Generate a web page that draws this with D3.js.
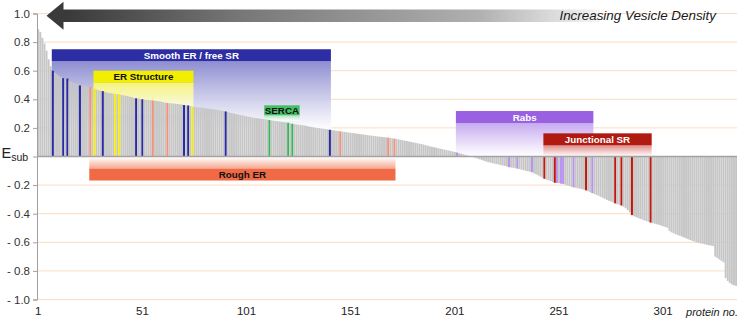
<!DOCTYPE html>
<html>
<head>
<meta charset="utf-8">
<script src="https://cdn.jsdelivr.net/npm/d3@7"></script>
<style>
  body { margin: 0; background: #fff; }
  svg { display: block; font-family: "Liberation Sans", Arial, sans-serif; }
</style>
</head>
<body>
<div class="canvas"></div>
<script>
// E_sub per protein, sorted high -> low
const values = [
  0.89, 0.87, 0.83, 0.79, 0.74, 0.68, 0.63, 0.60, 0.585, 0.575,
  0.565, 0.555, 0.548, 0.546, 0.545, 0.53, 0.52, 0.515, 0.51, 0.503,
  0.497, 0.495, 0.493, 0.49, 0.49, 0.488, 0.48, 0.475, 0.468, 0.463,
  0.46, 0.457, 0.452, 0.448, 0.445, 0.442, 0.44, 0.437, 0.436, 0.435,
  0.43, 0.428, 0.425, 0.422, 0.418, 0.415, 0.41, 0.407, 0.405, 0.403,
  0.40, 0.398, 0.396, 0.395, 0.394, 0.392, 0.39, 0.388, 0.386, 0.384,
  0.38, 0.377, 0.374, 0.373, 0.372, 0.37, 0.369, 0.367, 0.365, 0.363,
  0.36, 0.358, 0.357, 0.354, 0.35, 0.348, 0.345, 0.343, 0.341, 0.34,
  0.338, 0.336, 0.334, 0.332, 0.33, 0.328, 0.326, 0.323, 0.321, 0.318,
  0.315, 0.31, 0.306, 0.303, 0.30, 0.297, 0.293, 0.29, 0.287, 0.284,
  0.281, 0.278, 0.275, 0.272, 0.27, 0.268, 0.266, 0.264, 0.262, 0.26,
  0.258, 0.255, 0.252, 0.25, 0.248, 0.246, 0.244, 0.242, 0.24, 0.238,
  0.236, 0.232, 0.229, 0.226, 0.224, 0.222, 0.22, 0.218, 0.216, 0.213,
  0.21, 0.207, 0.205, 0.202, 0.2, 0.198, 0.196, 0.194, 0.192, 0.19,
  0.187, 0.185, 0.183, 0.18, 0.178, 0.176, 0.174, 0.172, 0.17, 0.168,
  0.166, 0.164, 0.162, 0.16, 0.158, 0.156, 0.154, 0.152, 0.15, 0.148,
  0.146, 0.144, 0.142, 0.14, 0.138, 0.137, 0.135, 0.134, 0.132, 0.13,
  0.127, 0.125, 0.122, 0.12, 0.117, 0.114, 0.111, 0.108, 0.105, 0.102,
  0.099, 0.096, 0.093, 0.09, 0.087, 0.083, 0.079, 0.075, 0.071, 0.068,
  0.065, 0.062, 0.058, 0.055, 0.052, 0.048, 0.045, 0.042, 0.038, 0.035,
  0.032, 0.028, 0.024, 0.02, 0.016, 0.012, 0.008, 0.004, 0.001, -0.005,
  -0.01, -0.015, -0.02, -0.025, -0.03, -0.035, -0.04, -0.043, -0.046, -0.05,
  -0.053, -0.056, -0.06, -0.063, -0.066, -0.07, -0.075, -0.077, -0.079, -0.082,
  -0.085, -0.088, -0.092, -0.096, -0.10, -0.103, -0.106, -0.11, -0.118, -0.125,
  -0.132, -0.14, -0.148, -0.156, -0.162, -0.167, -0.172, -0.178, -0.184, -0.185,
  -0.187, -0.19, -0.192, -0.197, -0.202, -0.207, -0.212, -0.216, -0.219, -0.222,
  -0.225, -0.228, -0.232, -0.237, -0.243, -0.25, -0.256, -0.262, -0.268, -0.275,
  -0.282, -0.289, -0.296, -0.303, -0.31, -0.316, -0.322, -0.328, -0.334, -0.338,
  -0.343, -0.352, -0.362, -0.375, -0.39, -0.41, -0.418, -0.424, -0.43, -0.436,
  -0.441, -0.447, -0.452, -0.457, -0.462, -0.466, -0.47, -0.474, -0.478, -0.483,
  -0.488, -0.493, -0.498, -0.52, -0.53, -0.537, -0.543, -0.549, -0.555, -0.56,
  -0.566, -0.572, -0.578, -0.584, -0.59, -0.595, -0.60, -0.605, -0.608, -0.611,
  -0.614, -0.617, -0.62, -0.623, -0.626, -0.70, -0.71, -0.72, -0.73, -0.74,
  -0.85, -0.87, -0.885, -0.895, -0.90, -0.905
];

// highlighted proteins (protein no.)
const smoothErBars = [8, 13, 15, 21, 32, 48, 51, 71, 73, 91, 141];
const roughErBars = [26, 56, 63, 146, 169, 172];
const erStructureBars = [28, 38, 40, 75];
const sercaBars = [112, 121, 123];
const rabsBars = [202, 227, 231, 238, 250, 252, 253, 258, 267];
const junctionalBars = [244, 249, 264, 278, 281, 286, 295];

const yTicks = [-1, -0.8, -0.6, -0.4, -0.2, 0, 0.2, 0.4, 0.6, 0.8, 1];
const xTicks = [1, 51, 101, 151, 201, 251, 301];

// group boxes: protein range and E_sub of header top
const groupNames = ['Smooth ER / free SR', 'ER Structure', 'Rabs', 'Junctional SR', 'SERCA', 'Rough ER'];
const groupFrom = [8, 28, 202, 244, 110, 26];
const groupTo = [141, 75, 267, 295, 126, 172];
const groupTop = [0.75, 0.60, 0.318, 0.162, 0.358, -0.084];
const groupFadeTo = [0.19, 0.29, 0.0, 0.0, 0.25, -0.004];

const groupStyle = {
  'Smooth ER / free SR': { fill: '#2d2da4', text: '#fff', fade: '#8e8ed2', h: 12 },
  'ER Structure': { fill: '#f2ee00', text: '#111', fade: '#f6f47c', h: 12 },
  'Rabs': { fill: '#9a60e2', text: '#fff', fade: '#c6aaf0', h: 12 },
  'Junctional SR': { fill: '#b01a10', text: '#fff', fade: '#e08a86', h: 12 },
  'SERCA': { fill: '#45be65', text: '#111', fade: '#b0e4bf', h: 10 },
  'Rough ER': { fill: '#f06a45', text: '#111', fade: '#f5a890', h: 12 }
};

const width = 741;
const height = 320;

const svg = d3.select('.canvas').append('svg')
  .attr('width', width)
  .attr('height', height);

const defs = svg.append('defs');

const x = d3.scaleBand()
  .domain(d3.range(1, values.length + 1))
  .range([37.2, 737.1])
  .padding(0);
const y = d3.scaleLinear().domain([-1, 1]).range([299.5, 13.5]);
const bw = x.bandwidth();

// gridlines
svg.append('g')
  .selectAll('line')
  .data(yTicks.filter(d => d !== 0))
  .enter().append('line')
    .attr('x1', 37).attr('x2', 737)
    .attr('y1', d => y(d)).attr('y2', d => y(d))
    .attr('stroke', '#fbdcc2')
    .attr('stroke-width', 1);

// arrow on top
const arrowGrad = defs.append('linearGradient')
  .attr('id', 'arrowGrad')
  .attr('gradientUnits', 'userSpaceOnUse')
  .attr('x1', 47).attr('x2', 600).attr('y1', 0).attr('y2', 0);
arrowGrad.append('stop').attr('offset', 0).attr('stop-color', '#333');
arrowGrad.append('stop').attr('offset', 0.35).attr('stop-color', '#777');
arrowGrad.append('stop').attr('offset', 0.78).attr('stop-color', '#b0b0b0');
arrowGrad.append('stop').attr('offset', 1).attr('stop-color', '#f6f6f6');

svg.append('rect')
  .attr('x', 62).attr('y', 9.5)
  .attr('width', 538).attr('height', 12.5)
  .attr('fill', 'url(#arrowGrad)');
svg.append('path')
  .attr('d', 'M46.5,15.7 L63.5,1.8 L63.5,29.8 Z')
  .attr('fill', '#3a3a3a');

svg.append('text')
  .attr('x', 716).attr('y', 19.8)
  .attr('text-anchor', 'end')
  .attr('font-size', 13.4)
  .attr('font-style', 'italic')
  .attr('fill', '#1a1a1a')
  .text('Increasing Vesicle Density');

// group fade panels (behind bars)
const panels = svg.append('g');
groupNames.forEach((name, i) => {
  const st = groupStyle[name];
  const x0 = x(groupFrom[i]);
  const x1 = x(groupTo[i]) + bw;
  const top = y(groupTop[i]);
  const gid = 'fade' + i;
  const g = defs.append('linearGradient')
    .attr('id', gid)
    .attr('x1', 0).attr('x2', 0).attr('y1', 0).attr('y2', 1);
  if (groupFadeTo[i] < groupTop[i]) {
    // fade below header
    const y0 = top + st.h;
    const y1 = y(groupFadeTo[i]);
    g.append('stop').attr('offset', 0).attr('stop-color', st.fade);
    g.append('stop').attr('offset', 1).attr('stop-color', '#fff').attr('stop-opacity', 0.9);
    panels.append('rect')
      .attr('x', x0).attr('y', y0)
      .attr('width', x1 - x0).attr('height', y1 - y0)
      .attr('fill', `url(#${gid})`);
  } else {
    // fade above header
    const y0 = y(groupFadeTo[i]);
    g.append('stop').attr('offset', 0).attr('stop-color', '#fff');
    g.append('stop').attr('offset', 1).attr('stop-color', st.fade);
    panels.append('rect')
      .attr('x', x0).attr('y', y0)
      .attr('width', x1 - x0).attr('height', top - y0)
      .attr('fill', `url(#${gid})`);
  }
});

// bars
const colourOf = {};
smoothErBars.forEach(d => colourOf[d] = '#2a2aa2');
roughErBars.forEach(d => colourOf[d] = '#f5917a');
erStructureBars.forEach(d => colourOf[d] = '#f6ee00');
sercaBars.forEach(d => colourOf[d] = '#3cb55a');
rabsBars.forEach(d => colourOf[d] = '#b892f2');
junctionalBars.forEach(d => colourOf[d] = '#c0180c');

const bars = values.map((v, i) => ({ no: i + 1, v: v }));

svg.append('g')
  .selectAll('rect')
  .data(bars)
  .enter().append('rect')
    .attr('x', d => x(d.no) + (colourOf[d.no] ? 0 : 0.08))
    .attr('width', d => colourOf[d.no] ? bw : bw - 0.16)
    .attr('y', d => Math.min(y(d.v), y(0)))
    .attr('height', d => Math.abs(y(d.v) - y(0)))
    .attr('fill', d => colourOf[d.no] || '#c6c6c6');

// group headers
const headers = svg.append('g');
groupNames.forEach((name, i) => {
  const st = groupStyle[name];
  const x0 = x(groupFrom[i]);
  const x1 = x(groupTo[i]) + bw;
  const top = y(groupTop[i]);
  headers.append('rect')
    .attr('x', x0).attr('y', top)
    .attr('width', x1 - x0).attr('height', st.h)
    .attr('fill', st.fill);
  headers.append('text')
    .attr('x', (x0 + x1) / 2)
    .attr('y', top + st.h / 2 + 3.5)
    .attr('text-anchor', 'middle')
    .attr('font-size', 9.8)
    .attr('font-weight', 'bold')
    .attr('fill', st.text)
    .text(name);
});

// zero line
svg.append('line')
  .attr('x1', 37).attr('x2', 737)
  .attr('y1', y(0)).attr('y2', y(0))
  .attr('stroke', '#a3a3a3')
  .attr('stroke-width', 1.6);

// y axis (the 0 label is replaced by the E_sub title)
const yAxis = d3.axisLeft(y)
  .tickValues(yTicks)
  .tickSize(4)
  .tickPadding(3)
  .tickFormat(d => d === 0 ? '' : d < 0 ? '- ' + d3.format('.1f')(-d) : d3.format('.1f')(d));

const yAxisGroup = svg.append('g')
  .attr('transform', 'translate(37,0)')
  .call(yAxis);
yAxisGroup.select('.domain').attr('stroke', '#a0a0a0');
yAxisGroup.selectAll('.tick line').attr('stroke', '#a0a0a0');
yAxisGroup.selectAll('text')
  .attr('font-size', 11.5)
  .attr('font-family', '"Liberation Sans", Arial, sans-serif')
  .attr('fill', '#333');

// x axis
const xAxis = d3.axisBottom(x)
  .tickValues(xTicks)
  .tickSize(0)
  .tickPadding(7.3);

const xAxisGroup = svg.append('g')
  .attr('transform', `translate(0,${y(-1)})`)
  .call(xAxis);
xAxisGroup.select('.domain').remove();
xAxisGroup.selectAll('text')
  .attr('font-size', 11.5)
  .attr('font-family', '"Liberation Sans", Arial, sans-serif')
  .attr('fill', '#222');

svg.append('text')
  .attr('x', 738).attr('y', 315.5)
  .attr('text-anchor', 'end')
  .attr('font-size', 11)
  .attr('font-style', 'italic')
  .attr('fill', '#222')
  .text('protein no.');

// axis title E_sub
const yTitle = svg.append('text')
  .attr('x', 1.5).attr('y', 158)
  .attr('fill', '#222');
yTitle.append('tspan').attr('font-size', 14.5).text('E');
yTitle.append('tspan').attr('font-size', 10.5).attr('dy', 3).text('sub');
</script>
</body>
</html>
